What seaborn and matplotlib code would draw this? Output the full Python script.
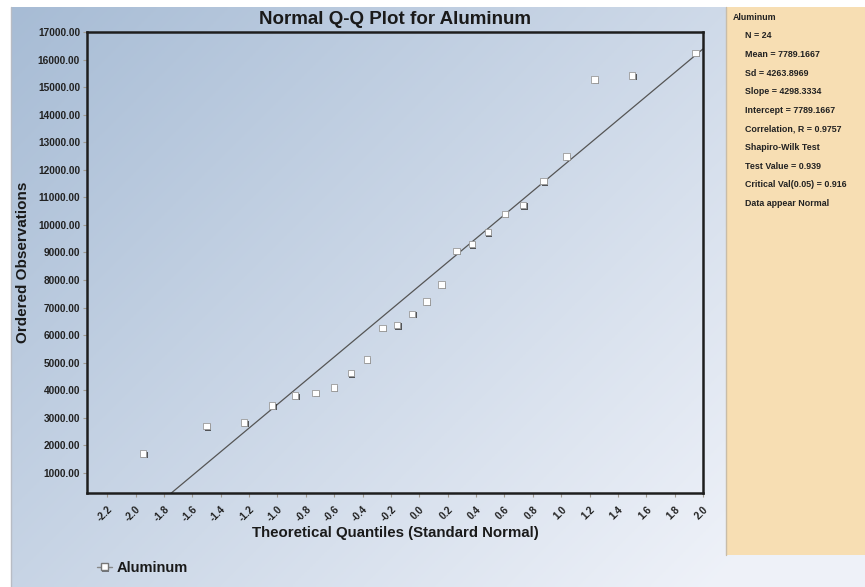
import numpy as np
import pandas as pd
import seaborn as sns
import matplotlib
matplotlib.use("Agg")
import matplotlib.pyplot as plt
from matplotlib.patches import Rectangle
from matplotlib.lines import Line2D
import matplotlib.patheffects as pe

# ---------------- data ----------------
theoretical_quantiles = [-1.947, -1.499, -1.236, -1.039, -0.875, -0.732, -0.603, -0.483,
                         -0.370, -0.261, -0.156, -0.052, 0.052, 0.156, 0.261, 0.370,
                         0.483, 0.603, 0.732, 0.875, 1.039, 1.236, 1.499, 1.947]
ordered_observations = [1707, 2697, 2832, 3449, 3811, 3910, 4102, 4621,
                        5118, 6268, 6362, 6776, 7222, 7839, 9062, 9301,
                        9736, 10404, 10716, 11587, 12483, 15277, 15422, 16246]
slope = 4298.3334
intercept = 7789.1667
series_name = "Aluminum"
y_ticks = [1000, 2000, 3000, 4000, 5000, 6000, 7000, 8000, 9000, 10000,
           11000, 12000, 13000, 14000, 15000, 16000, 17000]
x_ticks = [-2.2, -2.0, -1.8, -1.6, -1.4, -1.2, -1.0, -0.8, -0.6, -0.4, -0.2,
           0.0, 0.2, 0.4, 0.6, 0.8, 1.0, 1.2, 1.4, 1.6, 1.8, 2.0]
stats_lines = ["N = 24", "Mean = 7789.1667", "Sd = 4263.8969", "Slope = 4298.3334",
               "Intercept = 7789.1667", "Correlation, R = 0.9757", "Shapiro-Wilk Test",
               "Test Value = 0.939", "Critical Val(0.05) = 0.916", "Data appear Normal"]

df = pd.DataFrame({"q": theoretical_quantiles, "obs": ordered_observations})

W, H = 865, 587
sns.set_theme(style="white")
plt.rcParams['font.family'] = ['Liberation Sans', 'DejaVu Sans']

fig = plt.figure(figsize=(W / 100, H / 100), dpi=100)
fig.patch.set_facecolor("white")

def fx(px):
    return px / W

def fy(py):
    return 1 - py / H

# background gradient (full width below top strip)
bg = fig.add_axes([fx(11), 0, fx(W - 11), 1 - 7 / H])
bg.set_axis_off()
gx = np.linspace(0, 1, 300)
gy = np.linspace(0, 1, 200)
GX, GY = np.meshgrid(gx, gy)
t = np.clip(0.55 * GX * 1.2 + 0.45 * GY, 0, 1)
c0 = np.array([0.655, 0.737, 0.835])
c1 = np.array([0.937, 0.949, 0.976])
img = c0[None, None, :] * (1 - t[..., None]) + c1[None, None, :] * t[..., None]
bg.imshow(img, aspect="auto", extent=[0, 1, 1, 0], origin="upper")
bg.set_xlim(0, 1)
bg.set_ylim(1, 0)
fig.add_artist(Line2D([fx(10.5), fx(10.5)], [0, fy(7)], color="#b8bcc4", lw=1))

# side panel
fig.add_artist(Rectangle((fx(726), fy(555)), fx(865 - 726), (555 - 7) / H,
                         transform=fig.transFigure, facecolor="#f7deb3",
                         edgecolor="none", zorder=1))
fig.add_artist(Line2D([fx(726), fx(726)], [fy(555), fy(7)], color="#c8bca8", lw=1))
fig.text(fx(733), fy(17), series_name, fontsize=6.4, fontweight="bold",
         va="center", ha="left", color="#222222")
for i, s in enumerate(stats_lines):
    fig.text(fx(745), fy(36 + i * 18.6), s, fontsize=6.4, fontweight="bold",
             va="center", ha="left", color="#222222")

# main axes
ax = fig.add_axes([fx(87), fy(493), fx(703 - 87), (493 - 32) / H])
ax.set_facecolor("none")
xmin, xmax = -2.343, 2.0
ymin, ymax = 274, 17000

xl = np.array([xmin, xmax])
ax.plot(xl, intercept + slope * xl, color="#555555", lw=0.9, zorder=2)

sns.scatterplot(data=df, x="q", y="obs", marker="s", s=22, color="white",
                edgecolor="#9a9a9a", linewidth=0.6, ax=ax, zorder=3,
                path_effects=[pe.withSimplePatchShadow(offset=(1, -1), shadow_rgbFace="#333333", alpha=0.8)])

ax.set_xlim(xmin, xmax)
ax.set_ylim(ymin, ymax)
ax.set_xticks(x_ticks)
ax.set_xticklabels([f"{v:.1f}" for v in x_ticks], rotation=45, ha="right",
                   rotation_mode="anchor", fontsize=7.3, fontweight="bold")
ax.set_yticks(y_ticks)
ax.set_yticklabels([f"{v:.2f}" for v in y_ticks], fontsize=7.3, fontweight="bold")
ax.tick_params(axis="both", which="both", length=3, width=0.8, color="#a09a90",
               pad=2, labelcolor="#222222", bottom=True, left=True)
ax.tick_params(axis="x", pad=5)
for sp in ax.spines.values():
    sp.set_visible(True)
    sp.set_color("#1e1e1e")
    sp.set_linewidth(1.8)

ax.set_xlabel("Theoretical Quantiles (Standard Normal)", fontsize=10.8, fontweight="bold",
              color="#1a1a1a")
ax.xaxis.set_label_coords(0.5, -(533 - 493) / (493 - 32))
ax.xaxis.label.set_va("center")
ax.set_ylabel("Ordered Observations", fontsize=11, fontweight="bold", color="#1a1a1a")
ax.yaxis.set_label_coords(-(87 - 23) / (703 - 87), 0.5)
ax.yaxis.label.set_va("center")

fig.text(fx(395), fy(19), "Normal Q-Q Plot for Aluminum", fontsize=13.5, fontweight="bold",
         ha="center", va="center", color="#1a1a1a")

# legend
handle = Line2D([], [], color="#888888", lw=1, marker="s", markersize=5,
                markerfacecolor="white", markeredgecolor="#777777",
                path_effects=[pe.withSimplePatchShadow(offset=(1, -1), shadow_rgbFace="#333333", alpha=0.6)])
leg = fig.legend([handle], [series_name], loc="center left",
                 bbox_to_anchor=(fx(97), fy(568)), frameon=False, handlelength=1.0,
                 handletextpad=0.35, borderaxespad=0, borderpad=0,
                 prop={"weight": "bold", "size": 10.5})
for txt in leg.get_texts():
    txt.set_color("#1a1a1a")

fig.savefig("out.png", dpi=100, facecolor=fig.get_facecolor())
